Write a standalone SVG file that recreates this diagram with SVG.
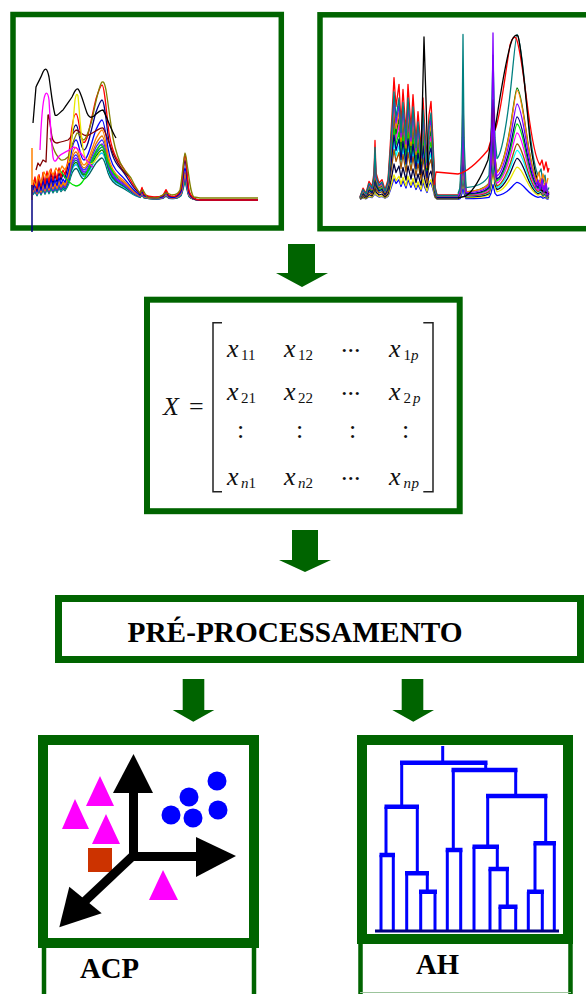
<svg xmlns="http://www.w3.org/2000/svg" xmlns:xlink="http://www.w3.org/1999/xlink" width="586" height="994" viewBox="0 0 586 994">
  <style>
    .frame { fill: #ffffff; stroke: #006400; }
    .arrow { fill: #006400; }
    .sp { fill: none; stroke-width: 1.3; stroke-linejoin: round; vector-effect: non-scaling-stroke; }
    .spx { fill: none; stroke-width: 1.3; stroke-linejoin: round; }
    .mx { font-family: "Liberation Serif", "Times New Roman", serif; font-style: italic; font-size: 26px; fill: #111; }
    .sub { font-family: "Liberation Serif", "Times New Roman", serif; font-size: 15px; fill: #111; }
    .subi { font-family: "Liberation Serif", "Times New Roman", serif; font-style: italic; font-size: 15px; fill: #111; }
    .rm { font-family: "Liberation Serif", "Times New Roman", serif; font-size: 26px; fill: #111; }
    .brk { fill: none; stroke: #222; stroke-width: 1.5; }
    .lbl { font-family: "Liberation Serif", "Times New Roman", serif; font-weight: bold; font-size: 30px; fill: #000; }
    .dv { fill: none; stroke: #0000ff; stroke-width: 3; }
    .dh { fill: none; stroke: #0000ff; stroke-width: 4.5; }
  </style>
  <defs>
    <!-- generic UV-Vis spectrum, baseline at y=200 -->
    <path id="uvBase" class="sp" d="M33,188 L35,180 37,190 39,178 41,188 43,176 45,186 47,175 49,185 51,173 53,183 55,175 57,182 59,172 61,180 63,174 65,178 67,170 69,160 C71,140 73,125 76,125 C79,125 80,150 84,150 C88,150 92,125 96,112 C99,104 101,100 102,100 C104,100 106,118 108,135 C110,150 114,162 120,168 C126,174 130,184 136,190 L140,194 142,189 144,195 C150,198 158,198 163,196 L166,191 169,196 C174,198 178,197 181,190 C183,180 184,160 185,160 C186,160 187,180 189,192 C191,198 195,200 200,200 L258,200"/>
    <!-- generic IR spectrum, fingerprint region -->
    <path id="irLeft" class="sp" d="M360,198 L363,193 366,196 369,189 372,192 374,184 375,165 376,184 379,190 382,188 385,194 388,188 390,170 392,150 394,128 396,145 399,132 401,155 403,135 406,160 408,132 411,158 413,138 416,165 418,148 421,170 423,140 425,160 427,175 429,150 431,142 433,165 435,192 437,197 L458,197"/>
    <!-- generic IR spectrum, high wavenumber region -->
    <path id="irRight" class="sp" d="M458,197 L460,194 462,170 463,120 464,170 466,194 C475,194 485,192 489,188 L491,170 493,130 495,170 497,180 C502,178 508,160 512,140 C514,130 516,120 517,120 C519,120 522,130 526,150 C530,170 534,184 538,188 L541,185 543,192 545,188 547,196 549,194"/>
  </defs>

  <rect width="586" height="994" fill="#ffffff"/>

  <!-- UV-Vis spectra panel -->
  <g id="spectra-uv">
    <rect class="frame" x="13" y="14.5" width="268.3" height="213.5" stroke-width="5.5"/>
    <use href="#uvBase" stroke="#006060" transform="matrix(1,0,0,0.42,0,116)"/>
    <use href="#uvBase" stroke="#00c0ff" transform="matrix(1,0,0,0.47,0,106)"/>
    <use href="#uvBase" stroke="#008000" transform="matrix(1,0,0,0.5,0,100)"/>
    <use href="#uvBase" stroke="#008080" transform="matrix(1,0,0,0.53,0,94)"/>
    <use href="#uvBase" stroke="#8000ff" transform="matrix(1,0,0,0.56,0,88)"/>
    <use href="#uvBase" stroke="#3030ff" transform="matrix(1,0,0,0.6,0,80)"/>
    <use href="#uvBase" stroke="#e07000" transform="matrix(1,0,0,0.64,0,72)"/>
    <use href="#uvBase" stroke="#ff8000" transform="matrix(1,0,0,0.7,0,60)"/>
    <use href="#uvBase" stroke="#0000ff" transform="matrix(1,0,0,0.8,0,40)"/>
    <use href="#uvBase" stroke="#000080" transform="matrix(1,0,0,1,0,0)"/>
    <use href="#uvBase" stroke="#ff0000" transform="matrix(1,0,0,1.15,0,-30)"/>
    <path class="spx" stroke="#00e000" d="M60,170 C65,178 70,185 76,186 C80,186 84,182 88,170 C92,160 96,150 100,145 C102,144 104,148 106,155 C108,165 112,172 118,178"/>
    <path class="spx" stroke="#ff8000" d="M33,180 L36,186 38,176 41,183 44,172 47,178 50,170 53,175 56,168 59,173 62,166 65,170 68,163 72,160"/>
    <path class="spx" stroke="#800000" d="M36,170 L38,163 40,166 43,160 46,162 48,115 C49,113 50,125 52,137 C53,142 55,143 57,143 C61,142 65,141 68,140 C71,138 73,132 76,130 C78,130 80,133 84,135 C88,137 90,134 94,132 C98,130 101,127 103,128 C105,130 107,138 110,145 C114,158 120,168 128,176"/>
    <path class="spx" stroke="#808000" stroke-width="1.6" d="M50,138 L53,147 C55,153 57,157 61,160 C64,161 66,159 68,157 C70,153 73,140 77,133 C79,132 81,140 84,140 C87,138 89,130 92,120 C95,105 99,85 102,82 C104,81 105,85 106,90 C108,102 110,120 113,138 C115,148 118,160 123,168 C126,172 128,174 131,178 C134,184 137,190 140,193 L143,190 147,197 C150,198 154,198 157,198 C161,197 164,193 167,193 L172,195 C175,195 178,194 180,190 C182,180 184,153 185,153 C186,153 187,165 188,170 C190,185 191,195 194,197 L200,198 L258,198"/>
    <path class="spx" stroke="#e8e800" d="M68,162 C71,160 73,120 75,100 C76,94 77,93 78,96 C79,105 80,125 82,140 C83,152 85,160 88,163 C92,166 95,162 100,152"/>
    <path class="spx" stroke="#ff00ff" d="M40,150 C41,125 43,100 45,95 C46,92 48,92 49,100 C50,115 51,140 53,157 C54,163 56,162 58,157 C62,153 67,152 72,148 C75,146 77,148 80,152 C84,157 88,163 93,167"/>
    <path class="spx" stroke="#000000" d="M33,123 L36,87 C38,82 40,80 43,72 C45,68 47,67 49,77 C51,90 52,103 55,115 C57,117 60,112 63,110 C67,104 70,100 72,97 C74,93 76,88 78,89 C81,92 84,105 87,113 C89,118 91,118 94,116 C97,113 100,110 103,110 C106,114 110,128 116,138"/>
    <path fill="none" stroke="#ff8000" stroke-width="1.5" d="M32,148 V200"/>
    <path fill="none" stroke="#000080" stroke-width="1.5" d="M32,185 V232"/>
  </g>

  <!-- IR spectra panel -->
  <g id="spectra-ir">
    <rect class="frame" x="320" y="14.8" width="280" height="213.9" stroke-width="5.5"/>
    <use href="#irLeft" stroke="#0000ff" transform="matrix(1,0,0,0.3,0,140)"/>
    <use href="#irRight" stroke="#0000ff" transform="matrix(1,0,0,0.22,0,156)"/>
    <use href="#irLeft" stroke="#e8e800" transform="matrix(1,0,0,0.35,0,130)"/>
    <use href="#irRight" stroke="#e8e800" transform="matrix(1,0,0,0.41,0,118)"/>
    <use href="#irLeft" stroke="#000040" transform="matrix(1,0,0,0.5,0,100)"/>
    <use href="#irRight" stroke="#000040" transform="matrix(1,0,0,0.52,0,96)"/>
    <use href="#irLeft" stroke="#00ffff" transform="matrix(1,0,0,0.8,0,40)"/>
    <use href="#irRight" stroke="#00ffff" transform="matrix(1,0,0,0.62,0,76)"/>
    <use href="#irLeft" stroke="#a05000" transform="matrix(1,0,0,0.7,0,60)"/>
    <use href="#irRight" stroke="#a05000" transform="matrix(1,0,0,0.7,0,60)"/>
    <use href="#irLeft" stroke="#ff00ff" transform="matrix(1,0,0,1.1,0,-20)"/>
    <use href="#irRight" stroke="#ff00ff" transform="matrix(1,0,0,0.84,0,32)"/>
    <use href="#irLeft" stroke="#00e000" transform="matrix(1,0,0,1,0,0)"/>
    <use href="#irRight" stroke="#00e000" transform="matrix(1,0,0,0.95,0,10)"/>
    <use href="#irLeft" stroke="#000080" transform="matrix(1,0,0,0.9,0,20)"/>
    <use href="#irRight" stroke="#000080" transform="matrix(1,0,0,1.04,0,-8)"/>
    <use href="#irLeft" stroke="#008000" transform="matrix(1,0,0,1.2,0,-40)"/>
    <use href="#irRight" stroke="#008000" transform="matrix(1,0,0,1.4,0,-80)"/>
    <use href="#irLeft" stroke="#ff8000" transform="matrix(1,0,0,1.3,0,-60)"/>
    <use href="#irRight" stroke="#ff8000" transform="matrix(1,0,0,1.37,0,-74)"/>
    <use href="#irLeft" stroke="#8000ff" transform="matrix(1,0,0,1.4,0,-80)"/>
    <use href="#irRight" stroke="#8000ff" transform="matrix(1,0,0,1.2,0,-40)"/>
    <use href="#irLeft" stroke="#ff0000" transform="matrix(1,0,0,1.7,0,-140)"/>
    <use href="#irLeft" stroke="#008080" transform="matrix(1,0,0,1.5,0,-100)"/>
    <use href="#irRight" stroke="#008080" transform="matrix(1,0,0,2.07,0,-214)"/>
    <path class="spx" stroke="#ff0000" d="M434,185 L436,172 L458,174 C468,172 478,162 488,150 L491,140 493,100 495,130 C500,120 505,75 510,45 C512,38 514,36 516,38 C520,45 524,80 528,110 C532,140 536,160 540,165 L542,160 544,170 546,162 548,172 549,168"/>
    <path class="spx" stroke="#000000" d="M458,198 L466,196 C475,190 482,175 488,160 L491,140 493,100 495,130 C498,110 505,60 512,40 C514,36 516,34 518,36 C522,50 526,100 530,140 C534,170 538,185 541,190 L545,192 549,194"/>
    <path class="spx" stroke="#000000" d="M420,175 L422,120 424,37 426,100 428,170"/>
    <path class="spx" stroke="#8000ff" stroke-width="2" d="M490,180 L492,120 493,33 494,120 496,178"/>
    <path class="spx" stroke="#ff8000" stroke-width="2" d="M536,182 L539,172 541,184 543,174 546,186 548,178"/>
    <path class="spx" stroke="#8000ff" stroke-width="2" d="M535,188 L538,180 540,190 542,179 544,192 546,183 548,195"/>
  </g>

  <!-- data matrix -->
  <g id="matrix">
    <rect class="frame" x="147" y="299.7" width="312.7" height="211.5" stroke-width="6"/>
    <text class="mx" x="163" y="415" font-size="28">X</text>
    <text class="rm" x="189" y="415" font-size="28">=</text>
    <path class="brk" d="M222,322.7 H213 V491.7 H222"/>
    <path class="brk" d="M423.3,322.7 H433 V491.7 H423.3"/>
    <!-- row 1 -->
    <text class="mx" x="227" y="357">x</text><text class="sub" x="241" y="360">11</text>
    <text class="mx" x="284" y="357">x</text><text class="sub" x="298" y="360">12</text>
    <text class="rm" x="341" y="352">...</text>
    <text class="mx" x="389" y="357">x</text><text class="sub" x="403.5" y="360">1</text><text class="subi" x="411" y="360">p</text>
    <!-- row 2 -->
    <text class="mx" x="227" y="400">x</text><text class="sub" x="241" y="403">21</text>
    <text class="mx" x="284" y="400">x</text><text class="sub" x="298" y="403">22</text>
    <text class="rm" x="341" y="395">...</text>
    <text class="mx" x="389" y="400">x</text><text class="sub" x="403.5" y="403">2</text><text class="subi" x="413" y="403">p</text>
    <!-- row 3 -->
    <text class="rm" x="237" y="438">:</text>
    <text class="rm" x="296" y="438">:</text>
    <text class="rm" x="349" y="438">:</text>
    <text class="rm" x="402" y="438">:</text>
    <!-- row 4 -->
    <text class="mx" x="227" y="485">x</text><text class="subi" x="241" y="488">n</text><text class="sub" x="248.5" y="488">1</text>
    <text class="mx" x="284" y="485">x</text><text class="subi" x="298" y="488">n</text><text class="sub" x="305.5" y="488">2</text>
    <text class="rm" x="341" y="480">...</text>
    <text class="mx" x="389" y="485">x</text><text class="subi" x="403.5" y="488">n</text><text class="subi" x="411.5" y="488">p</text>
  </g>

  <!-- pre-processing step -->
  <g id="preprocess">
    <rect class="frame" x="58.5" y="598.5" width="522" height="61" stroke-width="7"/>
    <text class="lbl" x="127.5" y="642" font-size="32" textLength="335" lengthAdjust="spacingAndGlyphs">PRÉ-PROCESSAMENTO</text>
  </g>

  <!-- principal component analysis -->
  <g id="acp">
    <rect class="frame" x="43" y="740" width="211" height="203" stroke-width="10"/>
    <path fill="none" stroke="#006400" stroke-width="4.5" d="M44,946 V994 M254,946 V994"/>
    <text class="lbl" x="80" y="978" textLength="59" lengthAdjust="spacingAndGlyphs">ACP</text>
    <g fill="#ff00ff">
      <polygon points="100,776 114,806 86,806"/>
      <polygon points="75,799 89,829 62,829"/>
      <polygon points="106,814 120,844 92,844"/>
      <polygon points="163,870 178,900 149,900"/>
    </g>
    <rect x="88" y="848" width="24" height="24" fill="#cc3300"/>
    <g fill="#0000ff">
      <circle cx="217" cy="781" r="9.5"/>
      <circle cx="189" cy="797" r="9.5"/>
      <circle cx="171" cy="815" r="9.5"/>
      <circle cx="193" cy="818" r="9.5"/>
      <circle cx="218" cy="810" r="9.5"/>
    </g>
    <g fill="#000000">
      <rect x="129" y="790" width="9" height="71"/>
      <polygon points="113,793 133.5,754 153,793"/>
      <rect x="133" y="852" width="65" height="9"/>
      <polygon points="196,837 236,856 196,877"/>
      <path d="M137,852 L84,902" stroke="#000" stroke-width="9" fill="none"/>
      <polygon points="59.3,927.3 69.3,886.7 101.7,913.3"/>
    </g>
  </g>

  <!-- hierarchical cluster analysis -->
  <g id="ah">
    <rect class="frame" x="362" y="740" width="206" height="199" stroke-width="10"/>
    <path fill="none" stroke="#006400" stroke-width="4.5" d="M360.5,942 V994 M570.5,942 V994"/>
    <path fill="none" stroke="#9cc49c" stroke-width="1" d="M360,992.5 H571"/>
    <text class="lbl" x="416" y="974" textLength="43" lengthAdjust="spacingAndGlyphs">AH</text>
    <path class="dv" d="M442.7,746 V762.7 M401.7,762.7 V806.7 M485.7,762.7 V770 M386,806.7 V855 M381,855 V931 M393.3,855 V931 M417.3,806.7 V873.3 M406.7,873.3 V931 M427.3,873.3 V891.7 M420.7,891.7 V931 M435,891.7 V931 M453.3,770 V850 M447.3,850 V931 M460.7,850 V931 M515.7,770 V796 M487.7,796 V846.7 M474,846.7 V931 M497.3,846.7 V869 M490,869 V931 M507.3,869 V906.7 M500,906.7 V931 M515.7,906.7 V931 M545.7,796 V843.3 M554.3,843.3 V931 M535,843.3 V891.7 M528.3,891.7 V931 M542.3,891.7 V931"/>
    <path class="dh" d="M400,762.7 H487.5 M451.5,770 H517.5 M384.5,806.7 H419 M379.5,855 H395 M405,873.3 H429 M419,891.7 H437 M445.7,850 H462.5 M486,796 H547.5 M472.5,846.7 H499 M488.5,869 H509 M498.5,906.7 H517.5 M533.5,843.3 H556 M527,891.7 H544"/>
    <path fill="none" stroke="#000080" stroke-width="3" d="M375,931 H559"/>
  </g>

  <!-- flow arrows -->
  <g id="connectors">
    <path class="arrow" d="M288,244 H315 V273 H328 L302,287 L276,273 H288 Z"/>
    <path class="arrow" d="M292,530 H318 V560 H331 L305,572 L279,560 H292 Z"/>
    <path class="arrow" d="M182.7,679 H204.3 V710 H214.3 L193.3,721.7 L172.7,710 H182.7 Z"/>
    <path class="arrow" d="M401.7,679 H423.3 V710 H434 L413.3,721.7 L392.3,710 H401.7 Z"/>
  </g>
</svg>
